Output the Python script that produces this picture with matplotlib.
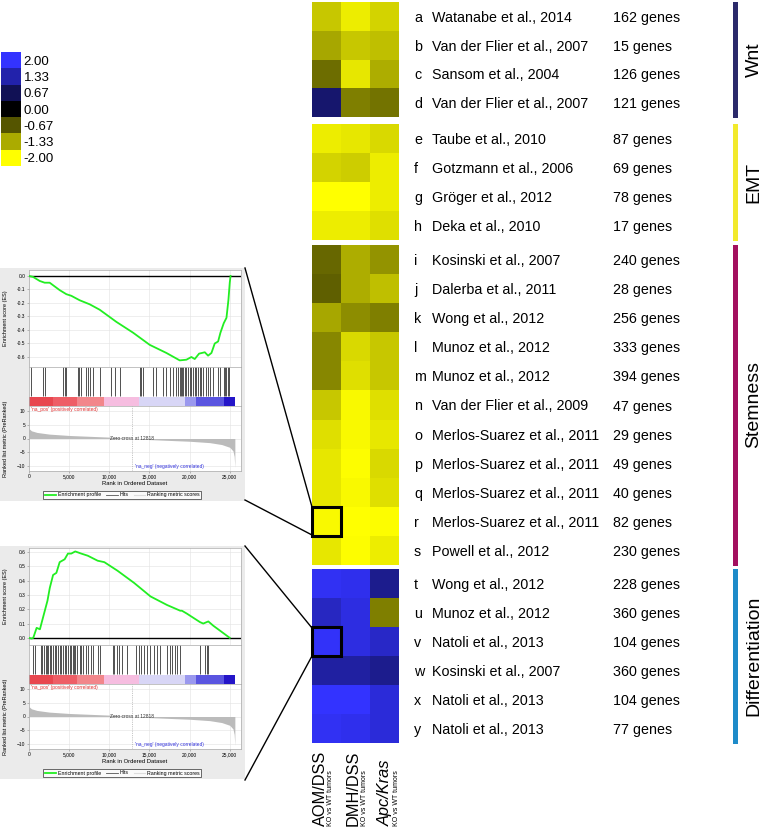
import numpy as np
import matplotlib
matplotlib.use('Agg')
import matplotlib.pyplot as plt
from matplotlib.colors import LinearSegmentedColormap
from matplotlib.lines import Line2D
from matplotlib.patches import Rectangle

plt.rcParams['font.family'] = ['Liberation Sans', 'DejaVu Sans']

W, H = 764, 836

# ---- heatmap data ----
letters = list('abcdefghijklmnopqrstuvwxy')
studies = ['Watanabe et al., 2014', 'Van der Flier et al., 2007', 'Sansom et al., 2004',
           'Van der Flier et al., 2007', 'Taube et al., 2010', 'Gotzmann et al., 2006',
           'Gröger et al., 2012', 'Deka et al., 2010', 'Kosinski et al., 2007',
           'Dalerba et al., 2011', 'Wong et al., 2012', 'Munoz et al., 2012',
           'Munoz et al., 2012', 'Van der Flier et al., 2009', 'Merlos-Suarez et al., 2011',
           'Merlos-Suarez et al., 2011', 'Merlos-Suarez et al., 2011',
           'Merlos-Suarez et al., 2011', 'Powell et al., 2012', 'Wong et al., 2012',
           'Munoz et al., 2012', 'Natoli et al., 2013', 'Kosinski et al., 2007',
           'Natoli et al., 2013', 'Natoli et al., 2013']
gene_counts = [162, 15, 126, 121, 87, 69, 78, 17, 240, 28, 256, 333, 394, 47, 29, 49,
               40, 82, 230, 228, 360, 104, 360, 104, 77]
groups = ['Wnt', 'EMT', 'Stemness', 'Differentiation']
group_sizes = [4, 4, 11, 6]
group_colors = ['#2b2a6b', '#f2ea2c', '#a3105f', '#1e8bc9']
models = ['AOM/DSS', 'DMH/DSS', 'Apc/Kras']

aom = [-1.55, -1.3, -0.85, 0.85,
       -1.85, -1.65, -2.0, -1.85,
       -0.8, -0.75, -1.3, -1.05, -1.05, -1.55, -1.75, -1.8, -1.8, -1.95, -1.8,
       1.9, 1.5, 1.95, 1.25, 2.0, 1.9]
dmh = [-1.85, -1.55, -1.8, -1.0,
       -1.8, -1.6, -2.0, -1.85,
       -1.35, -1.35, -1.1, -1.7, -1.75, -1.95, -1.95, -1.97, -1.95, -2.0, -1.97,
       1.85, 1.75, 1.75, 1.25, 2.0, 1.85]
apc = [-1.65, -1.5, -1.35, -0.9,
       -1.7, -1.85, -1.85, -1.75,
       -1.15, -1.5, -1.0, -1.55, -1.55, -1.75, -1.8, -1.7, -1.75, -1.97, -1.85,
       1.1, -1.0, 1.55, 1.1, 1.7, 1.7]

legend_levels = [2.0, 1.33, 0.67, 0.0, -0.67, -1.33, -2.0]

# ---- GSEA data (two example gene sets) ----
es1_rank = [0, 500, 1330, 1950, 2575, 3820, 4650, 5270, 6310, 7560, 8800, 10880, 12960,
            15030, 17110, 18770, 19600, 20220, 20640, 21180, 21890, 22300, 22720, 23130,
            23550, 23840, 24250, 24590, 24830, 25000, 25100]
es1_val = [0.0, -0.007, -0.037, -0.05, -0.05, -0.105, -0.135, -0.147, -0.18, -0.21, -0.25,
           -0.34, -0.42, -0.51, -0.57, -0.625, -0.62, -0.60, -0.615, -0.575, -0.565, -0.59,
           -0.57, -0.50, -0.485, -0.42, -0.35, -0.31, -0.18, -0.05, 0.0]
hits1 = [290, 1745, 1950, 4235, 4525, 4650, 6105, 6230, 6520, 7140, 7350, 7560, 7975, 8800,
         10260, 10670, 11300, 13790, 14000, 14200, 15450, 15860, 16690, 17110, 17525, 17940,
         18355, 18560, 18770, 18980, 19100, 19190, 19390, 19600, 19810, 20020, 20225, 20430,
         20640, 20850, 21055, 21260, 21470, 21680, 22090, 22300, 22510, 22925, 23550, 23755,
         24250, 24380, 24585, 24795, 24920]

es2_rank = [0, 330, 530, 950, 1360, 1640, 1970, 2300, 2590, 3000, 3410, 3820, 4440, 4850,
            5260, 5760, 6500, 7320, 8550, 9380, 11020, 13080, 15130, 17190, 18830, 19040,
            19650, 21300, 21700, 22330, 22950, 25000]
es2_val = [0.0, -0.005, 0.0, 0.07, 0.06, 0.12, 0.19, 0.26, 0.35, 0.44, 0.455, 0.53, 0.55,
           0.59, 0.59, 0.605, 0.59, 0.575, 0.54, 0.53, 0.47, 0.385, 0.29, 0.23, 0.19, 0.19,
           0.17, 0.11, 0.10, 0.115, 0.085, 0.0]
hits2 = [535, 740, 1480, 1645, 1890, 2055, 2180, 2385, 2590, 2795, 3000, 3205, 3415, 3620,
         3825, 3950, 4235, 4440, 4645, 4850, 5060, 5265, 5470, 5590, 5755, 6005, 6290, 6500,
         6700, 7115, 7400, 7730, 7935, 8635, 8880, 10400, 10610, 11020, 11225, 11635, 12255,
         13280, 13690, 13900, 14310, 14720, 15130, 15625, 15955, 16365, 17190, 17600, 17805,
         18215, 18420, 18835, 21300, 21915, 22120, 22330]

metric_rank = [0, 300, 1000, 2500, 5000, 7500, 10000, 12818, 15000, 17500, 20000, 22500,
               24000, 25000, 25400, 25550, 25636]
metric_val = [3.6, 2.8, 2.2, 1.6, 1.1, 0.8, 0.5, 0.0, -0.4, -0.7, -1.0, -1.5, -2.2, -3.2,
              -4.5, -6.5, -10.5]
zero_cross = 12818
bar_edges = [0, 3000, 6000, 9300, 13700, 19400, 20800, 24300, 25636]
bar_colors = ['#e8474f', '#ee5e66', '#f2868b', '#f6bde0', '#d8d6f6', '#9a98ee', '#5a55e0',
              '#2415c8']


def box(x0, y0, x1, y1):
    return [x0 / W, 1 - y1 / H, (x1 - x0) / W, (y1 - y0) / H]


fig = plt.figure(figsize=(W / 100, H / 100), dpi=100)

cmap = LinearSegmentedColormap.from_list(
    'yb', [(0.0, (1, 1, 0)), (0.5, (0, 0, 0)), (1.0, (0.2, 0.2, 1))])

# ---- heatmap blocks ----
tops = [2, 124, 245, 569]
bottoms = [117, 240, 565, 743]
data = np.array([aom, dmh, apc]).T
start = 0
hm_axes = []
for g, n in enumerate(group_sizes):
    ax = fig.add_axes(box(312, tops[g], 399, bottoms[g]))
    block = data[start:start + n]
    ax.pcolormesh(np.arange(4), np.arange(n + 1), block, cmap=cmap, vmin=-2, vmax=2)
    ax.set_ylim(n, 0)
    ax.set_xlim(0, 3)
    ax.axis('off')
    hm_axes.append(ax)
    rh = (bottoms[g] - tops[g]) / n
    for i in range(n):
        k = start + i
        yc = 1 - (tops[g] + (i + 0.5) * rh) / H
        for x, s in ((414, letters[k]), (432, studies[k]), (613, f'{gene_counts[k]} genes')):
            fig.text(x / W, yc, s, fontsize=10.3, va='center_baseline', ha='left')
    # group bar + label
    fig.add_artist(Rectangle((733 / W, 1 - (bottoms[g] + 1) / H), 5 / W,
                             (bottoms[g] - tops[g] + 1) / H, transform=fig.transFigure,
                             facecolor=group_colors[g], edgecolor='none'))
    fig.text(754 / W, 1 - (tops[g] + bottoms[g]) / 2 / H, groups[g], rotation=90,
             fontsize=14, ha='center', va='center')
    start += n

# highlighted cells
hm_axes[2].add_patch(Rectangle((0, 9), 1, 1, fill=False, edgecolor='black', lw=2.2,
                               clip_on=False, zorder=5))
hm_axes[3].add_patch(Rectangle((0, 2), 1, 1, fill=False, edgecolor='black', lw=2.2,
                               clip_on=False, zorder=5))

# column labels
col_x = [320, 353, 385]
for j, m in enumerate(models):
    style = 'italic' if m == 'Apc/Kras' else 'normal'
    fig.text(col_x[j] / W, 1 - 826 / H, m, rotation=90, fontsize=11.8, ha='center',
             va='bottom', fontstyle=style)
    fig.text((col_x[j] + 11) / W, 1 - 826 / H, 'KO vs WT tumors', rotation=90, fontsize=5,
             ha='center', va='bottom')

# ---- colour legend ----
axl = fig.add_axes(box(1, 52, 21, 166))
axl.pcolormesh(np.arange(2), np.arange(len(legend_levels) + 1),
               np.array(legend_levels)[:, None], cmap=cmap, vmin=-2, vmax=2)
axl.set_ylim(len(legend_levels), 0)
axl.set_xticks([])
axl.set_yticks(np.arange(len(legend_levels)) + 0.5)
axl.set_yticklabels([f'{v:.2f}' for v in legend_levels])
axl.tick_params(length=0, pad=2, labelright=True, labelleft=False, labelsize=9.5)
for s in axl.spines.values():
    s.set_visible(False)


# ---- GSEA panels ----
def gsea_panel(top, es_rank, es_val, es_lim, es_ticks, hits):
    fig.add_artist(Rectangle((0, 1 - (top + 233) / H), 245 / W, 233 / H,
                             transform=fig.transFigure, facecolor='#ebebeb',
                             edgecolor='none', zorder=-1))
    xmax = 26400
    ax1 = fig.add_axes(box(29, top + 2, 241, top + 99))
    ax1.plot(es_rank, es_val, color='#22ee22', lw=1.3, zorder=3)
    ax1.axhline(0, color='black', lw=1.0, zorder=2)
    ax1.set_xlim(0, xmax)
    ax1.set_ylim(*es_lim)
    ax1.set_yticks(es_ticks)
    ax1.set_yticklabels([f'{t:.1f}' for t in es_ticks])
    ax1.set_xticks(range(0, 25001, 5000))
    ax1.set_xticklabels([])
    ax1.set_ylabel('Enrichment score (ES)', fontsize=4)
    ax1.yaxis.set_label_coords(-0.1, 0.5)

    ax2 = fig.add_axes(box(29, top + 99, 241, top + 138))
    ax2.vlines(hits, 0.25, 1.0, color='#222222', lw=0.55)
    for i in range(len(bar_colors)):
        ax2.broken_barh([(bar_edges[i], bar_edges[i + 1] - bar_edges[i])], (0, 0.23),
                        facecolors=bar_colors[i])
    ax2.set_xlim(0, xmax)
    ax2.set_ylim(0, 1)
    ax2.set_xticks([])
    ax2.set_yticks([])

    ax3 = fig.add_axes(box(29, top + 138, 241, top + 203))
    ax3.fill_between(metric_rank, metric_val, 0, color='#bbbbbb', lw=0)
    ax3.axvline(zero_cross, color='#999999', lw=0.4, ls=(0, (2, 2)))
    ax3.set_xlim(0, xmax)
    ax3.set_ylim(-11.8, 11.8)
    ax3.set_yticks([10, 5, 0, -5, -10])
    ax3.set_xticks(range(0, 25001, 5000))
    ax3.set_xticklabels(['0', '5,000', '10,000', '15,000', '20,000', '25,000'])
    ax3.set_xlabel('Rank in Ordered Dataset', fontsize=4.2, labelpad=1)
    ax3.set_ylabel('Ranked list metric (PreRanked)', fontsize=4)
    ax3.yaxis.set_label_coords(-0.1, 0.5)
    ax3.text(0.01, 0.99, "'na_pos' (positively correlated)", transform=ax3.transAxes,
             color='#e03030', fontsize=3.5, va='top', ha='left')
    ax3.text(zero_cross, 0, 'Zero cross at 12818', fontsize=3.5, ha='center', va='center',
             color='#333333')
    ax3.text(13200, -10, "'na_neg' (negatively correlated)", color='#3333dd', fontsize=3.5,
             ha='left', va='center')

    for ax in (ax1, ax2, ax3):
        ax.set_facecolor('white')
        for s in ax.spines.values():
            s.set_color('#aaaaaa')
            s.set_linewidth(0.5)
        ax.tick_params(labelsize=3.5, length=1.5, width=0.4, pad=1, color='#888888')
    for ax in (ax1, ax3):
        ax.grid(True, color='#e2e2e2', lw=0.4)
        ax.set_axisbelow(True)

    handles = [Line2D([], [], color='#22ee22', lw=1.3),
               Line2D([], [], color='#555555', lw=0.6),
               Line2D([], [], color='#dddddd', lw=0.8)]
    leg = fig.legend(handles, ['Enrichment profile', 'Hits', 'Ranking metric scores'],
                     loc='center', bbox_to_anchor=(122 / W, 1 - (top + 227) / H), ncol=3,
                     fontsize=3.8, frameon=True, fancybox=False, edgecolor='black',
                     handlelength=2.2, borderpad=0.25, columnspacing=1.0,
                     handletextpad=0.3)
    leg.get_frame().set_linewidth(0.5)
    leg.get_frame().set_facecolor('white')


gsea_panel(268, es1_rank, es1_val, (-0.674, 0.044),
           [0.0, -0.1, -0.2, -0.3, -0.4, -0.5, -0.6], hits1)
gsea_panel(546, es2_rank, es2_val, (-0.05, 0.629),
           [0.0, 0.1, 0.2, 0.3, 0.4, 0.5, 0.6], hits2)

# connector lines from the panels to the highlighted cells
connectors = [((245, 268), (312, 507)), ((245, 500), (312, 535)),
              ((245, 546), (312, 628)), ((245, 780), (312, 656))]
for (xa, ya), (xb, yb) in connectors:
    fig.add_artist(Line2D([xa / W, xb / W], [1 - ya / H, 1 - yb / H],
                          transform=fig.transFigure, color='black', lw=1.0, zorder=6))

fig.savefig('out.png', dpi=100)
